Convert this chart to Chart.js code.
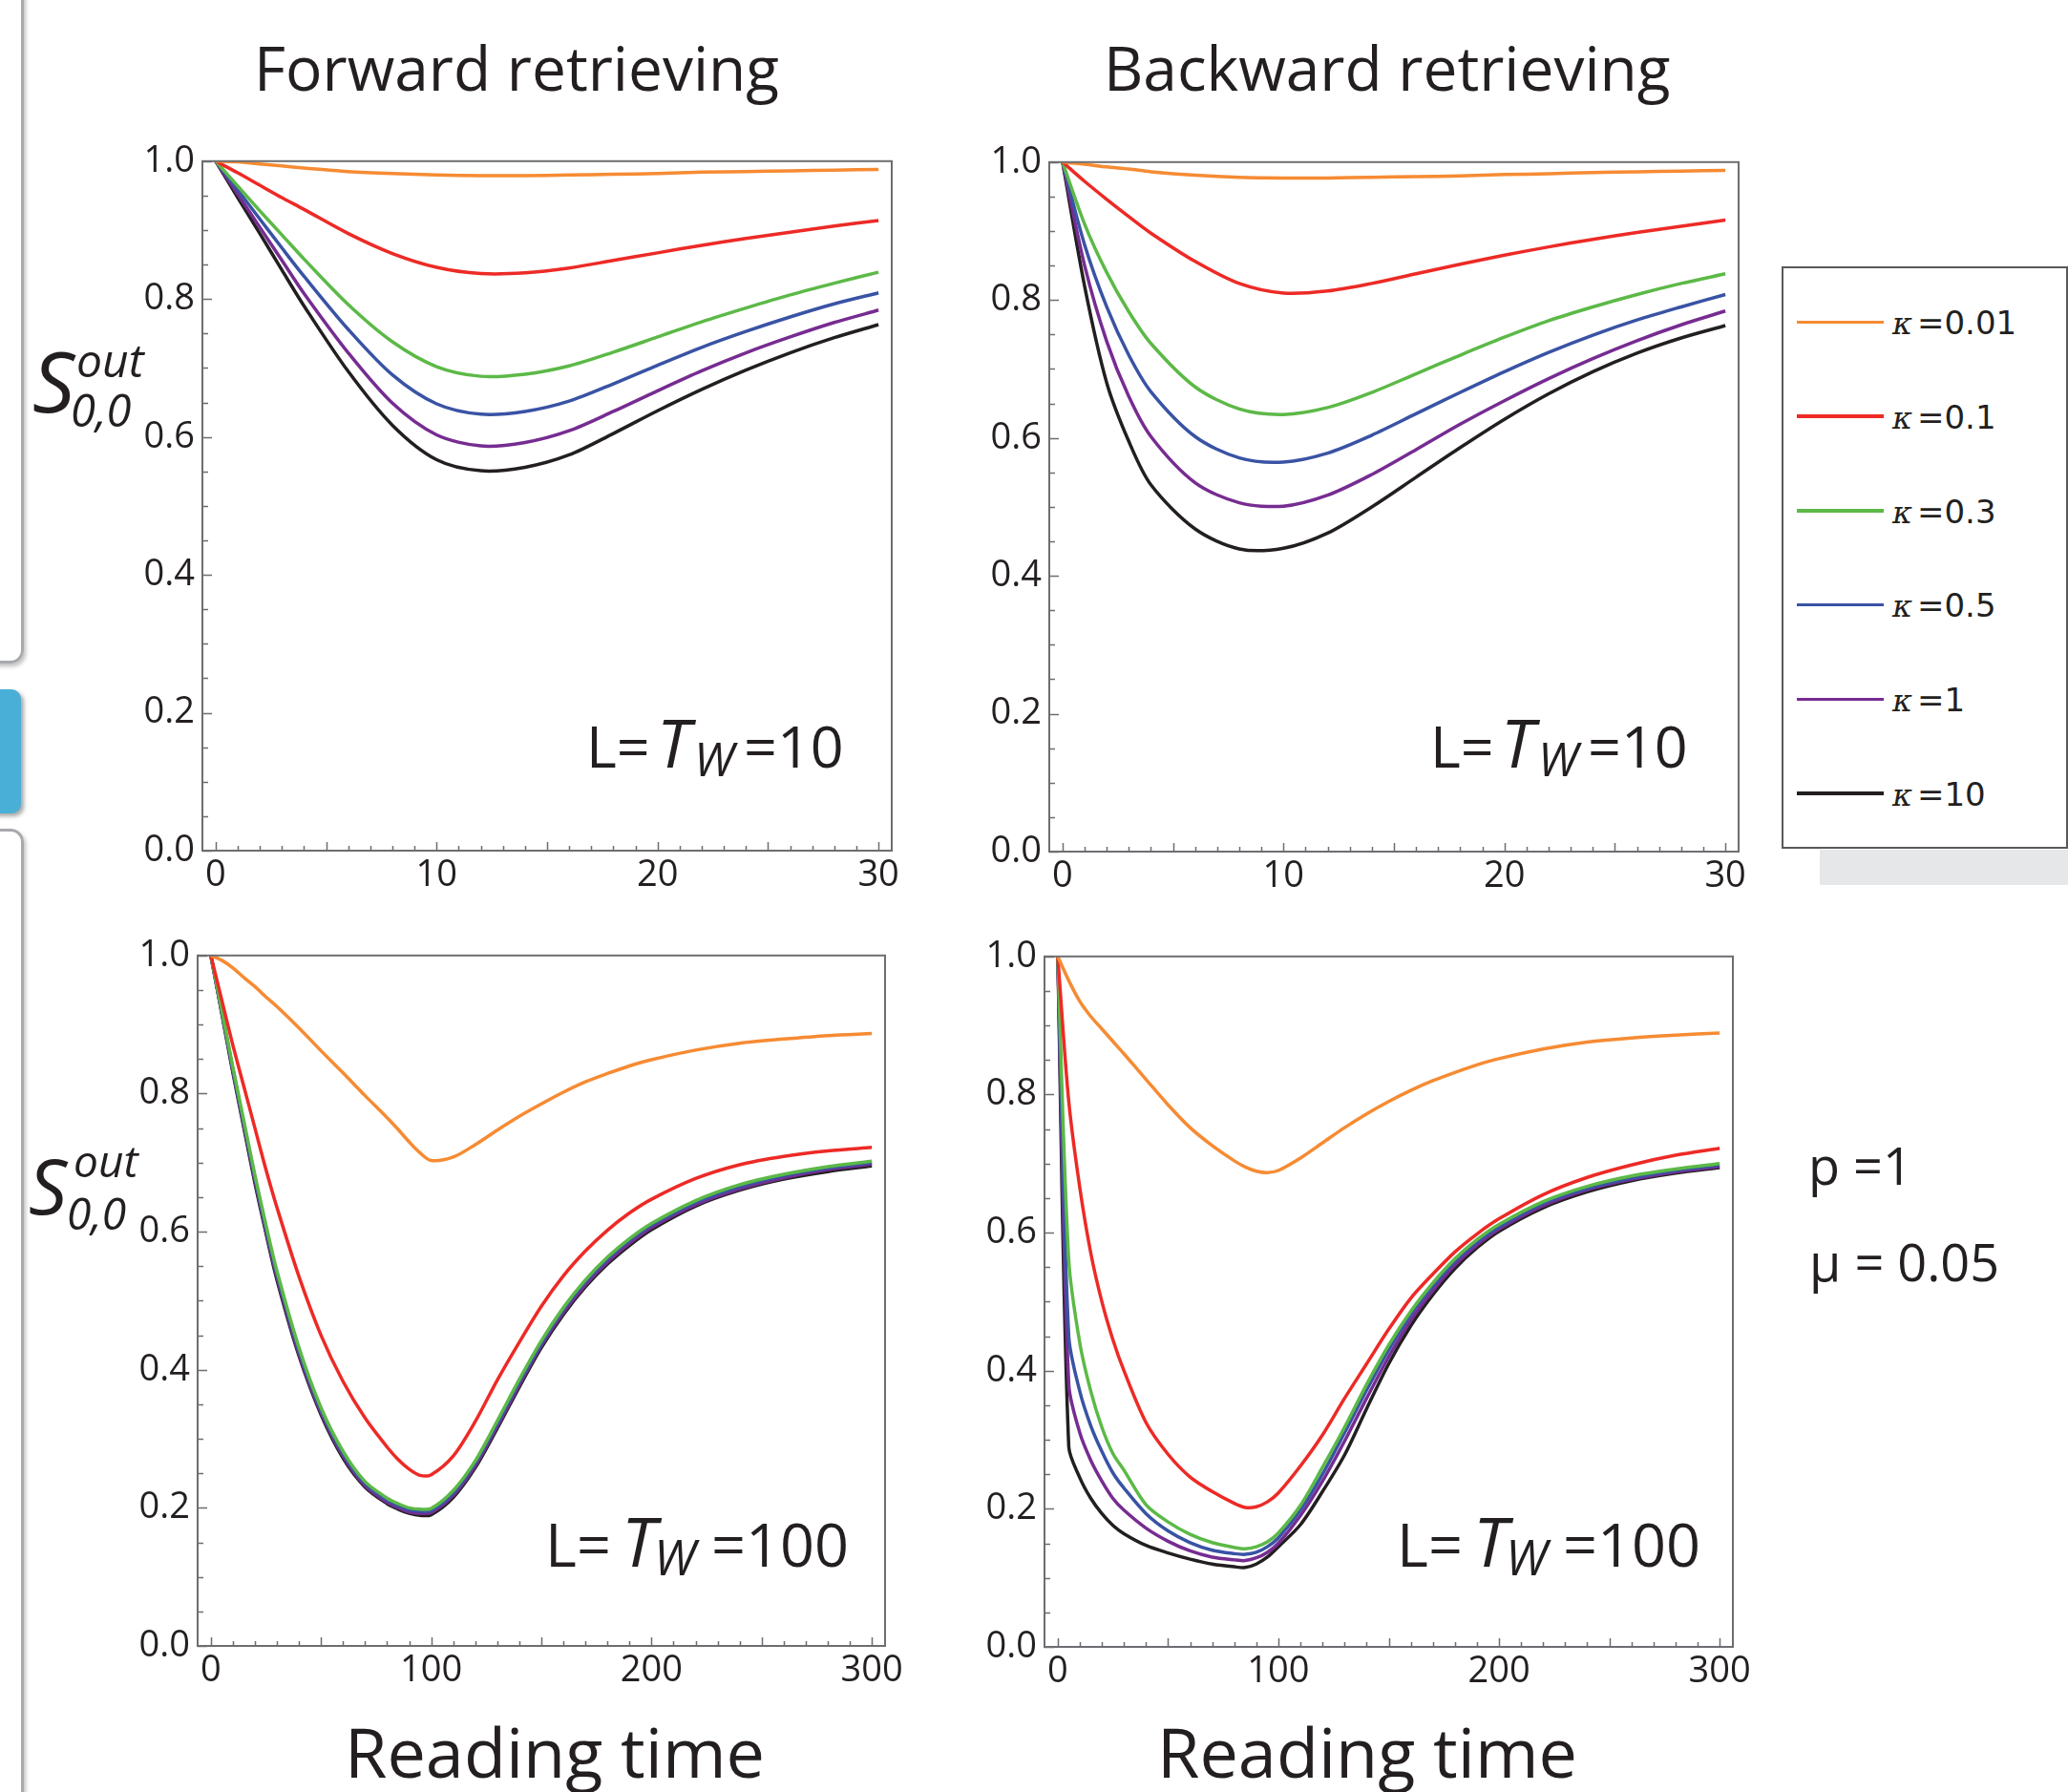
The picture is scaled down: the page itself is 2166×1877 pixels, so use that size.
<!DOCTYPE html>
<html>
<head>
<meta charset="utf-8">
<script src="https://cdn.jsdelivr.net/npm/chart.js@4.4.1/dist/chart.umd.min.js"></script>
<style>
  html, body { margin: 0; padding: 0; background: #fff; }
  body { width: 2166px; height: 1877px; position: relative; overflow: hidden; color: #231f20; font-family: 'Open Sans', sans-serif; }
  .box { position: absolute; box-sizing: border-box; }
  .lbl { position: absolute; white-space: nowrap; }
  canvas { position: absolute; }
</style>
</head>
<body>
<!-- slide side panel -->
<div class="box" style="left:-300px;top:-100px;width:325px;height:795px;border:3px solid #a7a9ac;border-radius:14px;box-shadow:2px 3px 4px rgba(0,0,0,.25)"></div>
<div class="box" style="left:-20px;top:722px;width:42px;height:130px;background:#4aafd6;border-radius:10px;box-shadow:3px 3px 4px rgba(0,0,0,.35)"></div>
<div class="box" style="left:-300px;top:868px;width:325px;height:1200px;border:3px solid #a7a9ac;border-radius:14px;box-shadow:2px 3px 4px rgba(0,0,0,.25)"></div>
<!-- legend frame -->
<div class="box" style="left:1906px;top:890px;width:260px;height:37px;background:#e6e7e8"></div>
<div class="box" style="left:1866px;top:279px;width:300px;height:610px;border:2px solid #58595b;background:#fff"></div>

<script>
// series order: kappa = 0.01, 0.1, 0.3, 0.5, 1, 10
const kappaValues = ['0.01', '0.1', '0.3', '0.5', '1', '10'];
const kappaColors = ['#f68b33', '#ed2a26', '#5cb947', '#3953a4', '#762c91', '#231f20'];

const topX = [0, 1, 2, 3, 4, 6, 8, 10, 12, 14, 16, 18, 20, 22, 24, 26, 28, 30];
const bottomX = [0, 5, 10, 15, 20, 25, 30, 40, 50, 60, 70, 80, 85, 90, 95, 100, 110, 120, 130, 140, 150, 160, 170, 180, 190, 200, 220, 240, 260, 280, 300];

const topXLabels = [0, 10, 20, 30];
const bottomXLabels = [0, 100, 200, 300];
const yLabels = ['0.0', '0.2', '0.4', '0.6', '0.8', '1.0'];

// Forward retrieving, L = T_W = 10
const fwd10 = [
  [1.0, 0.999, 0.996, 0.993, 0.99, 0.985, 0.982, 0.98, 0.979, 0.979, 0.98, 0.981, 0.982, 0.984, 0.985, 0.986, 0.987, 0.988],
  [1.0, 0.983, 0.965, 0.947, 0.93, 0.895, 0.866, 0.846, 0.837, 0.838, 0.845, 0.856, 0.867, 0.878, 0.888, 0.897, 0.906, 0.914],
  [1.0, 0.964, 0.928, 0.893, 0.858, 0.792, 0.738, 0.702, 0.688, 0.691, 0.703, 0.723, 0.745, 0.767, 0.787, 0.806, 0.823, 0.839],
  [1.0, 0.958, 0.916, 0.874, 0.833, 0.756, 0.69, 0.648, 0.633, 0.637, 0.652, 0.677, 0.704, 0.73, 0.753, 0.774, 0.793, 0.809],
  [1.0, 0.952, 0.904, 0.856, 0.808, 0.722, 0.649, 0.603, 0.587, 0.592, 0.609, 0.637, 0.667, 0.696, 0.722, 0.745, 0.766, 0.784],
  [1.0, 0.947, 0.895, 0.842, 0.79, 0.695, 0.617, 0.567, 0.551, 0.556, 0.574, 0.605, 0.638, 0.669, 0.697, 0.722, 0.744, 0.763]
];

// Backward retrieving, L = T_W = 10
const bwd10 = [
  [1.0, 0.997, 0.993, 0.99, 0.986, 0.981, 0.978, 0.977, 0.977, 0.978, 0.979, 0.98, 0.982, 0.983, 0.985, 0.986, 0.987, 0.988],
  [1.0, 0.972, 0.946, 0.921, 0.897, 0.856, 0.824, 0.81, 0.813, 0.824, 0.838, 0.852, 0.865, 0.877, 0.888, 0.898, 0.907, 0.916],
  [1.0, 0.91, 0.84, 0.783, 0.737, 0.674, 0.642, 0.634, 0.644, 0.666, 0.693, 0.72, 0.746, 0.77, 0.79, 0.808, 0.824, 0.838],
  [1.0, 0.88, 0.79, 0.72, 0.667, 0.602, 0.571, 0.565, 0.578, 0.604, 0.635, 0.666, 0.696, 0.724, 0.749, 0.771, 0.79, 0.808],
  [1.0, 0.85, 0.74, 0.66, 0.602, 0.535, 0.506, 0.501, 0.517, 0.547, 0.583, 0.62, 0.654, 0.686, 0.715, 0.741, 0.764, 0.784],
  [1.0, 0.82, 0.68, 0.595, 0.532, 0.468, 0.439, 0.44, 0.462, 0.5, 0.543, 0.586, 0.627, 0.664, 0.696, 0.723, 0.745, 0.763]
];

// Forward retrieving, L = T_W = 100
const fwd100 = [
  [1.0, 0.993, 0.982, 0.968, 0.955, 0.94, 0.926, 0.895, 0.862, 0.83, 0.797, 0.765, 0.748, 0.73, 0.714, 0.703, 0.708, 0.726, 0.747, 0.767, 0.785, 0.802, 0.817, 0.829, 0.84, 0.849, 0.863, 0.873, 0.879, 0.884, 0.887],
  [1.0, 0.935, 0.87, 0.81, 0.75, 0.69, 0.635, 0.535, 0.45, 0.383, 0.33, 0.288, 0.27, 0.256, 0.247, 0.248, 0.275, 0.325, 0.385, 0.44, 0.492, 0.536, 0.572, 0.602, 0.627, 0.647, 0.677, 0.697, 0.709, 0.717, 0.722],
  [1.0, 0.92, 0.838, 0.76, 0.682, 0.61, 0.543, 0.432, 0.345, 0.282, 0.238, 0.214, 0.206, 0.2, 0.198, 0.199, 0.225, 0.268, 0.326, 0.386, 0.442, 0.49, 0.53, 0.563, 0.59, 0.612, 0.645, 0.668, 0.683, 0.694, 0.702],
  [1.0, 0.918, 0.835, 0.756, 0.678, 0.605, 0.538, 0.427, 0.341, 0.278, 0.235, 0.211, 0.203, 0.197, 0.195, 0.196, 0.221, 0.265, 0.322, 0.382, 0.438, 0.487, 0.527, 0.56, 0.587, 0.609, 0.642, 0.665, 0.681, 0.692, 0.7],
  [1.0, 0.917, 0.833, 0.753, 0.674, 0.601, 0.534, 0.423, 0.338, 0.275, 0.232, 0.208, 0.2, 0.194, 0.192, 0.193, 0.218, 0.261, 0.318, 0.378, 0.435, 0.483, 0.523, 0.556, 0.583, 0.606, 0.639, 0.662, 0.678, 0.69, 0.698],
  [1.0, 0.915, 0.83, 0.75, 0.67, 0.598, 0.53, 0.42, 0.335, 0.272, 0.23, 0.206, 0.198, 0.192, 0.189, 0.19, 0.215, 0.258, 0.315, 0.375, 0.432, 0.48, 0.52, 0.553, 0.58, 0.603, 0.637, 0.66, 0.676, 0.687, 0.695]
];

// Backward retrieving, L = T_W = 100
const bwd100 = [
  [1.0, 0.965, 0.935, 0.913, 0.895, 0.877, 0.859, 0.822, 0.785, 0.752, 0.726, 0.704, 0.695, 0.689, 0.687, 0.69, 0.708, 0.73, 0.752, 0.772, 0.79, 0.806, 0.82, 0.832, 0.843, 0.852, 0.866, 0.876, 0.882, 0.886, 0.889],
  [1.0, 0.79, 0.665, 0.57, 0.5, 0.445, 0.4, 0.325, 0.279, 0.246, 0.225, 0.208, 0.202, 0.203, 0.21, 0.223, 0.262, 0.307, 0.36, 0.41, 0.46, 0.505, 0.54, 0.572, 0.598, 0.62, 0.655, 0.68, 0.698, 0.712, 0.722],
  [1.0, 0.56, 0.44, 0.37, 0.318, 0.28, 0.256, 0.206, 0.181, 0.163, 0.151, 0.144, 0.142, 0.145, 0.152, 0.165, 0.205, 0.26, 0.318, 0.38, 0.437, 0.486, 0.527, 0.562, 0.59, 0.612, 0.645, 0.667, 0.682, 0.692, 0.7],
  [1.0, 0.45, 0.37, 0.32, 0.283, 0.252, 0.23, 0.193, 0.168, 0.151, 0.14, 0.135, 0.134, 0.137, 0.145, 0.158, 0.198, 0.25, 0.31, 0.372, 0.43, 0.481, 0.522, 0.558, 0.586, 0.608, 0.642, 0.664, 0.679, 0.69, 0.698],
  [1.0, 0.38, 0.31, 0.27, 0.24, 0.215, 0.198, 0.172, 0.153, 0.139, 0.13, 0.126, 0.125, 0.129, 0.137, 0.15, 0.19, 0.24, 0.298, 0.36, 0.42, 0.473, 0.516, 0.553, 0.582, 0.605, 0.639, 0.662, 0.677, 0.688, 0.696],
  [1.0, 0.29, 0.245, 0.215, 0.193, 0.176, 0.164, 0.147, 0.136, 0.127, 0.12, 0.116, 0.115, 0.12, 0.13, 0.145, 0.177, 0.225, 0.278, 0.345, 0.41, 0.465, 0.51, 0.548, 0.578, 0.602, 0.636, 0.659, 0.675, 0.686, 0.694]
];

Chart.defaults.font.family = "'Open Sans', sans-serif";
Chart.defaults.color = '#231f20';

// frame + inward ticks, Mathematica style
const framePlugin = {
  id: 'frame',
  afterDatasetsDraw(chart, args, opts) {
    const { ctx, chartArea: a, scales: { x, y } } = chart;
    ctx.save();
    ctx.strokeStyle = '#6d6e71';
    ctx.lineWidth = 2;
    ctx.strokeRect(a.left, a.top, a.right - a.left, a.bottom - a.top);
    ctx.beginPath();
    x.ticks.forEach(t => {
      const px = Math.round(x.getPixelForValue(t.value)) + 0.5;
      const len = Math.abs(t.value % opts.xMajor) < 1e-9 ? 9 : 5;
      ctx.moveTo(px, a.bottom);
      ctx.lineTo(px, a.bottom - len);
    });
    y.ticks.forEach(t => {
      const py = Math.round(y.getPixelForValue(t.value)) + 0.5;
      const major = Math.abs(t.value * 5 - Math.round(t.value * 5)) < 1e-9;
      ctx.moveTo(a.left, py);
      ctx.lineTo(a.left + (major ? 10 : 6), py);
    });
    ctx.lineWidth = 1.5;
    ctx.stroke();
    ctx.restore();
  }
};

function makePanel(plot, xs, series, ax) {
  const padL = 130, padT = 30, padR = 50, padB = 80;
  const w = plot.r - plot.l + padL + padR;
  const h = plot.b - plot.t + padT + padB;
  const cv = document.createElement('canvas');
  cv.width = w; cv.height = h;
  cv.style.left = (plot.l - padL) + 'px';
  cv.style.top = (plot.t - padT) + 'px';
  cv.style.width = w + 'px';
  cv.style.height = h + 'px';
  document.body.appendChild(cv);

  new Chart(cv, {
    type: 'line',
    data: {
      datasets: series.map((ys, i) => ({
        label: 'κ=' + kappaValues[i],
        data: xs.map((x, j) => ({ x: x, y: ys[j] })),
        borderColor: kappaColors[i],
        borderWidth: 3.5,
        pointRadius: 0,
        tension: 0.3,
        fill: false
      }))
    },
    options: {
      responsive: false,
      animation: false,
      devicePixelRatio: 1,
      layout: { padding: { left: 0, top: padT, right: padR, bottom: 0 } },
      plugins: {
        legend: { display: false },
        tooltip: { enabled: false },
        frame: { xMajor: ax.major }
      },
      scales: {
        x: {
          type: 'linear',
          min: ax.min,
          max: ax.max,
          grid: { display: false, drawTicks: false },
          border: { display: false },
          afterBuildTicks: s => {
            const t = [];
            for (let v = 0; v <= ax.end; v += ax.minor) t.push({ value: v });
            s.ticks = t;
          },
          afterFit: s => { s.height = padB; },
          ticks: {
            autoSkip: false,
            maxRotation: 0,
            padding: 3,
            font: { size: 38 },
            callback: v => ax.labels.includes(v) ? String(v) : ''
          }
        },
        y: {
          min: 0,
          max: 1,
          grid: { display: false, drawTicks: false },
          border: { display: false },
          afterBuildTicks: s => {
            const t = [];
            for (let i = 0; i <= 20; i++) t.push({ value: i / 20 });
            s.ticks = t;
          },
          afterFit: s => { s.width = padL; },
          ticks: {
            autoSkip: false,
            padding: 8,
            font: { size: 38 },
            callback: v => yLabels.find(l => Math.abs(parseFloat(l) - v) < 1e-9) || ''
          }
        }
      }
    },
    plugins: [framePlugin]
  });
}

const topAxis = { min: -0.6, max: 30.6, end: 30, minor: 1, major: 5, labels: topXLabels };
const bottomAxis = { min: -6, max: 306, end: 300, minor: 10, major: 50, labels: bottomXLabels };

makePanel({ l: 212, t: 168, r: 934, b: 891 }, topX, fwd10, topAxis);
makePanel({ l: 1099, t: 169, r: 1821, b: 892 }, topX, bwd10, topAxis);
makePanel({ l: 207, t: 1000, r: 927, b: 1724 }, bottomX, fwd100, bottomAxis);
makePanel({ l: 1094, t: 1001, r: 1815, b: 1725 }, bottomX, bwd100, bottomAxis);

// text placed by its baseline
function putText(text, x, base, font, align) {
  const d = document.createElement('div');
  d.className = 'lbl';
  d.style.font = font;
  d.appendChild(document.createTextNode(text));
  const s = document.createElement('span');
  s.style.cssText = 'display:inline-block;width:0;height:0;';
  d.appendChild(s);
  document.body.appendChild(d);
  d.style.top = (base - s.offsetTop) + 'px';
  d.style.left = (align === 'center' ? x - d.offsetWidth / 2 : x) + 'px';
  return d;
}

const OS = "'Open Sans', sans-serif";
putText('Forward retrieving', 541, 95, '64px ' + OS, 'center');
putText('Backward retrieving', 1453, 95, '64px ' + OS, 'center');
putText('Reading time', 581, 1862, '72px ' + OS, 'center');
putText('Reading time', 1432, 1862, '72px ' + OS, 'center');

// y axis label S^out_0,0
putText('S', 34, 432, 'italic 88px ' + OS);
putText('out', 80, 395, 'italic 48px ' + OS);
putText('0,0', 74, 447, 'italic 47px ' + OS);
putText('S', 30, 1272, 'italic 80px ' + OS);
putText('out', 77, 1233, 'italic 46px ' + OS);
putText('0,0', 70, 1288, 'italic 46px ' + OS);

// L = T_W annotations
function annot(x, base, first, tail, big) {
  const f = big ? 63 : 61;
  putText(first, x, base, f + 'px ' + OS);
  putText('T', x + (big ? 80 : 74), base, 'italic ' + (f + 9) + 'px ' + OS);
  putText('W', x + (big ? 114 : 113), base + 9, 'italic ' + (f - 12) + 'px ' + OS);
  putText(tail, x + (big ? 174 : 165), base, f + 'px ' + OS);
}
annot(614, 804, 'L=', '=10', false);
annot(1498, 804, 'L=', '=10', false);
annot(571, 1641, 'L=', '=100', true);
annot(1463, 1641, 'L=', '=100', true);

putText('p =1', 1894, 1241, '54px ' + OS);
putText('μ = 0.05', 1895, 1342, '54px ' + OS);

// legend
kappaValues.forEach((v, i) => {
  const y = 337.5 + i * 98.7;
  const ln = document.createElement('div');
  ln.className = 'box';
  ln.style.cssText += `left:1882px;top:${y - 1.75}px;width:91px;height:3.5px;background:${kappaColors[i]}`;
  document.body.appendChild(ln);
  putText('κ', 1982, y + 12.8, "italic 32px 'DejaVu Serif', serif");
  putText('=' + v, 2008, y + 12.8, "34px 'DejaVu Sans', sans-serif");
});
</script>
</body>
</html>
